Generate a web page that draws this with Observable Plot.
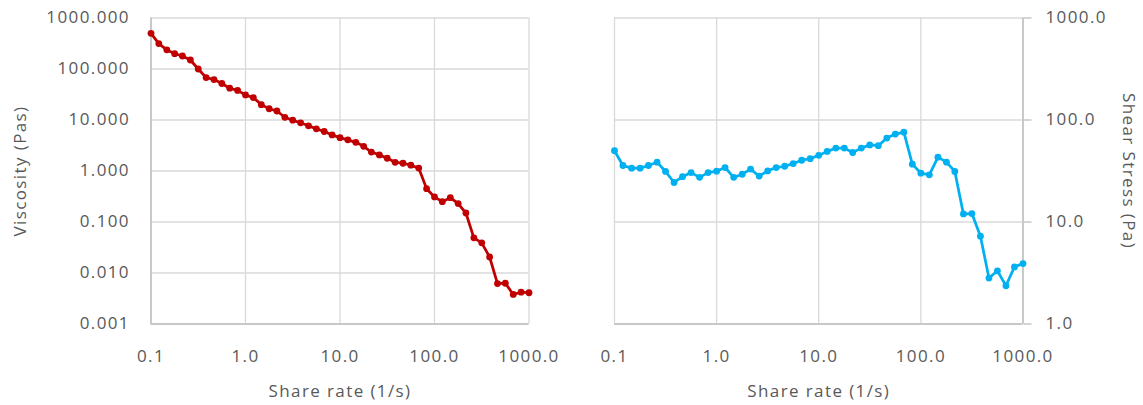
<!DOCTYPE html>
<html>
<head>
<meta charset="utf-8">
<script src="https://cdn.jsdelivr.net/npm/d3@7"></script>
<script src="https://cdn.jsdelivr.net/npm/@observablehq/plot@0.6"></script>
<style>
  html, body { margin: 0; padding: 0; background: #ffffff; }
  #wrap { position: relative; width: 1143px; height: 405px; display: flex; overflow: hidden; }
  #wrap svg { display: block; }
</style>
</head>
<body>
<div id="wrap"></div>
<script>
// ---- data ----
const shearRate = [0.1, 0.121, 0.147, 0.178, 0.215, 0.261, 0.316, 0.383, 0.464, 0.562, 0.681, 0.825,
  1.0, 1.21, 1.47, 1.78, 2.15, 2.61, 3.16, 3.83, 4.64, 5.62, 6.81, 8.25,
  10, 12.1, 14.7, 17.8, 21.5, 26.1, 31.6, 38.3, 46.4, 56.2, 68.1, 82.5,
  100, 121, 147, 178, 215, 261, 316, 383, 464, 562, 681, 825, 1000];

const viscosity = [500, 315, 238, 200, 180, 150, 100, 68, 62, 52, 42, 38,
  31, 27.5, 20, 16.6, 15, 11.3, 9.9, 8.8, 7.7, 6.7, 5.95, 5.1,
  4.5, 4.08, 3.65, 3.05, 2.35, 2.07, 1.78, 1.48, 1.42, 1.3, 1.14, 0.45,
  0.31, 0.25, 0.30, 0.23, 0.15, 0.049, 0.039, 0.0206, 0.0062, 0.0063, 0.0038, 0.0042, 0.0041];

const shearStress = [50, 35.8, 33.7, 33.7, 35.8, 38.6, 31.3, 24.4, 27.8, 30.5, 27.4, 30.5,
  31.5, 34.2, 27.4, 29.4, 33, 28.2, 31.7, 34.2, 35.2, 37.4, 40.3, 41.8,
  45, 49.2, 53, 53, 48, 53, 57, 56, 66.5, 72.8, 76, 36.9,
  30.1, 29, 43.2, 38.6, 31.3, 12, 12.1, 7.26, 2.82, 3.32, 2.37, 3.63, 3.91];

const xTicks = [0.1, 1, 10, 100, 1000];
const viscTicks = [0.001, 0.01, 0.1, 1, 10, 100, 1000];
const stressTicks = [1, 10, 100, 1000];

const xTitle = "Share rate (1/s)";
const viscTitle = "Viscosity (Pas)";
const stressTitle = "Shear Stress (Pa)";

// ---- styles ----
const red = "#C00000";
const blue = "#00B0F0";
const textColor = "#595959";
const gridColor = "#d9d9d9";
const axisColor = "#bfbfbf";

const baseStyle = {
  fontFamily: "'Open Sans', sans-serif",
  fontSize: "17px",
  color: textColor,
  background: "#ffffff",
  overflow: "visible",
  letterSpacing: "1.4px"
};

const viscData = shearRate.map((x, i) => ({x, y: viscosity[i]}));
const stressData = shearRate.map((x, i) => ({x, y: shearStress[i]}));

const left = Plot.plot({
  width: 560,
  height: 405,
  marginLeft: 150.5,
  marginRight: 31.5,
  marginTop: 17.5,
  marginBottom: 81.5,
  style: baseStyle,
  x: {type: "log", domain: [0.1, 1000]},
  y: {type: "log", domain: [0.001, 1000]},
  marks: [
    Plot.gridX(xTicks, {stroke: gridColor, strokeOpacity: 1, strokeWidth: 1.3}),
    Plot.gridY(viscTicks, {stroke: gridColor, strokeOpacity: 1, strokeWidth: 1.3}),
    Plot.ruleX([0.1], {stroke: axisColor, strokeWidth: 1.5}),
    Plot.ruleY([0.001], {stroke: axisColor, strokeWidth: 1.5}),
    Plot.axisX(xTicks, {
      tickSize: 0, tickPadding: 25.5, tickFormat: d3.format(".1f"), fill: textColor,
      label: xTitle, labelAnchor: "center", labelArrow: "none", labelOffset: 72.5
    }),
    Plot.axisY(viscTicks, {
      tickSize: 0, tickPadding: 21, tickFormat: d3.format(".3f"), fill: textColor,
      label: viscTitle, labelAnchor: "center", labelArrow: "none", labelOffset: 137
    }),
    Plot.line(viscData, {x: "x", y: "y", stroke: red, strokeWidth: 2.75}),
    Plot.dot(viscData, {x: "x", y: "y", r: 3.4, fill: red})
  ]
});

const right = Plot.plot({
  width: 583,
  height: 405,
  marginLeft: 54,
  marginRight: 120.5,
  marginTop: 17.5,
  marginBottom: 81.5,
  style: baseStyle,
  x: {type: "log", domain: [0.1, 1000]},
  y: {type: "log", domain: [1, 1000]},
  marks: [
    Plot.gridX(xTicks, {stroke: gridColor, strokeOpacity: 1, strokeWidth: 1.3}),
    Plot.gridY(stressTicks, {stroke: gridColor, strokeOpacity: 1, strokeWidth: 1.3}),
    Plot.ruleX([1000], {stroke: axisColor, strokeWidth: 1.5}),
    Plot.ruleY([1], {stroke: axisColor, strokeWidth: 1.5}),
    Plot.axisX(xTicks, {
      tickSize: 0, tickPadding: 25.5, tickFormat: d3.format(".1f"), fill: textColor,
      label: xTitle, labelAnchor: "center", labelArrow: "none", labelOffset: 72.5
    }),
    Plot.axisY(stressTicks, {
      anchor: "right", tickSize: 8, tickPadding: 14.5, stroke: axisColor, strokeWidth: 1.3,
      tickFormat: d3.format(".1f"), fill: textColor, label: null
    }),
    Plot.text([stressTitle], {frameAnchor: "right", textAnchor: "middle", lineAnchor: "middle", rotate: 90, dx: 105.5, fill: textColor}),
    Plot.line(stressData, {x: "x", y: "y", stroke: blue, strokeWidth: 2.75}),
    Plot.dot(stressData, {x: "x", y: "y", r: 3.4, fill: blue})
  ]
});

const wrap = document.getElementById("wrap");
wrap.appendChild(left);
wrap.appendChild(right);
</script>
</body>
</html>
